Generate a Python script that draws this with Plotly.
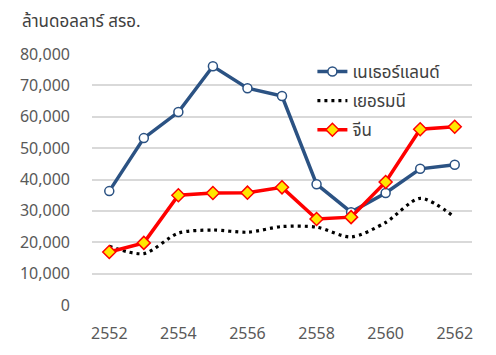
import plotly.graph_objects as go

years = [2552, 2553, 2554, 2555, 2556, 2557, 2558, 2559, 2560, 2561, 2562]
netherlands = [36300, 53200, 61500, 76100, 69100, 66600, 38500, 29600, 35700, 43400, 44700]
germany = [18700, 16400, 22900, 23900, 23200, 25000, 24800, 21700, 26300, 34000, 28000]
china = [16900, 19800, 35000, 35700, 35800, 37500, 27400, 28000, 39200, 56000, 56800]

names = ["เนเธอร์แลนด์", "เยอรมนี", "จีน"]
y_title = "ล้านดอลลาร์ สรอ."

blue = "#2B5283"
red = "#FF0000"

fig = go.Figure()
fig.add_trace(go.Scatter(
    x=years, y=netherlands, name=names[0], mode="lines+markers",
    line=dict(color=blue, width=3.5),
    marker=dict(symbol="circle", size=9, color="white", line=dict(color=blue, width=1.5)),
    legendgroup="a",
))
fig.add_trace(go.Scatter(
    x=years, y=germany, name=names[1], mode="lines",
    line=dict(color="black", width=3.2, dash="3px,4px", shape="spline", smoothing=0.8),
    legendgroup="b",
))
fig.add_trace(go.Scatter(
    x=years, y=china, name=names[2], mode="lines+markers",
    line=dict(color=red, width=3.5),
    marker=dict(symbol="diamond", size=10, color="#FFE600", line=dict(color=red, width=1.5)),
    legendgroup="c",
))

font_family = "Noto Sans, Noto Sans Thai, DejaVu Sans, sans-serif"

# page body has an 8px margin, so the figure is offset by 8px
fig.update_layout(
    width=496, height=355,
    margin=dict(l=84, r=32, t=46, b=58, autoexpand=False),
    paper_bgcolor="white", plot_bgcolor="white",
    font=dict(family=font_family, size=16, color="#595959"),
    showlegend=True,
    legend=dict(
        x=0.58, y=1.0, xanchor="left", yanchor="top",
        bgcolor="rgba(0,0,0,0)", font=dict(size=17, color="#404040"),
        tracegroupgap=4, itemwidth=30,
    ),
    xaxis=dict(
        range=[2551.5, 2562.5], tickmode="linear", tick0=2552, dtick=2,
        showgrid=False, zeroline=False, showline=False, ticks="",
        automargin=False, ticklabelstandoff=17,
        tickfont=dict(size=16, color="#595959"),
    ),
    yaxis=dict(
        range=[0, 80000], tickmode="linear", tick0=0, dtick=10000,
        tickformat=",d", showgrid=True, gridcolor="#D9D9D9", gridwidth=1.5,
        zeroline=False, showline=False, ticks="", ticklabelstandoff=21,
        automargin=False,
        tickfont=dict(size=16, color="#595959"),
    ),
    annotations=[dict(
        text=y_title, xref="paper", yref="paper", x=-0.19, y=1.135,
        xanchor="left", yanchor="middle", showarrow=False,
        font=dict(size=17, color="#404040"),
    )],
)

fig.write_html("out.html")
